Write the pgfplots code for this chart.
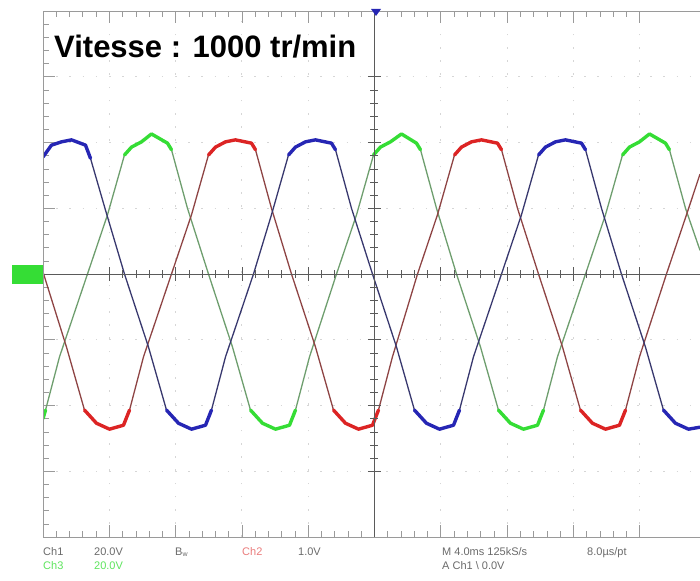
\documentclass[border=0pt]{standalone}
\usepackage{fontspec}
\setmainfont{Liberation Sans}
\usepackage{pgfplots}
\pgfplotsset{compat=1.18}
\usepackage{pgfplotstable}

\definecolor{bluep}{HTML}{2626B4}
\definecolor{blues}{HTML}{38386E}
\definecolor{greenp}{HTML}{35DD35}
\definecolor{greens}{HTML}{6E9E6E}
\definecolor{redp}{HTML}{DC2424}
\definecolor{reds}{HTML}{8E4444}
\definecolor{gridc}{HTML}{D6D6D6}
\definecolor{framec}{HTML}{9A9A9A}
\definecolor{centerc}{HTML}{5A5A5A}
\definecolor{txt}{HTML}{6A6A6A}

% time in divisions (4 ms/div), amplitude in divisions
\pgfplotstableread{
x y
-5.000 1.78
-4.872 1.96
-4.721 2.01
-4.570 2.04
-4.359 1.96
-4.284 1.76
-4.057 0.97
-3.771 0
-3.409 -1.11
-3.137 -2.07
-2.956 -2.27
-2.760 -2.36
-2.549 -2.30
-2.459 -2.07
-2.247 -1.26
-1.825 0
-1.554 0.90
-1.297 1.81
-1.192 1.93
-1.041 2.01
-0.890 2.04
-0.649 1.99
-0.588 1.89
-0.347 1.00
-0.030 0
0.332 -1.11
0.603 -2.07
0.784 -2.27
0.980 -2.36
1.192 -2.30
1.282 -2.07
1.493 -1.26
1.916 0
2.217 0.90
2.474 1.81
2.579 1.93
2.730 2.01
2.881 2.04
3.122 1.99
3.183 1.89
3.424 1.00
3.725 0
4.087 -1.11
4.359 -2.07
4.540 -2.27
4.736 -2.36
4.910 -2.33
}\bluedata

\pgfplotstableread{
x y
-5.000 0.03
-4.646 -1.11
-4.374 -2.07
-4.193 -2.27
-3.997 -2.36
-3.786 -2.30
-3.695 -2.07
-3.484 -1.26
-3.062 0
-2.760 0.90
-2.504 1.81
-2.398 1.93
-2.247 2.01
-2.097 2.04
-1.855 1.99
-1.795 1.89
-1.554 1.00
-1.252 0
-0.890 -1.11
-0.618 -2.07
-0.437 -2.27
-0.241 -2.36
-0.030 -2.30
0.060 -2.07
0.271 -1.26
0.649 0
0.950 0.90
1.207 1.81
1.312 1.93
1.463 2.01
1.614 2.04
1.855 1.99
1.916 1.89
2.157 1.00
2.474 0
2.836 -1.11
3.107 -2.07
3.288 -2.27
3.484 -2.36
3.695 -2.30
3.786 -2.07
3.997 -1.26
4.404 0
4.706 0.90
4.910 1.52
}\reddata

\pgfplotstableread{
x y
-5.000 -2.20
-4.962 -2.07
-4.751 -1.26
-4.329 0
-4.027 0.90
-3.771 1.81
-3.665 1.93
-3.514 2.01
-3.364 2.13
-3.122 1.99
-3.062 1.89
-2.821 1.00
-2.504 0
-2.142 -1.11
-1.870 -2.07
-1.689 -2.27
-1.493 -2.36
-1.282 -2.30
-1.192 -2.07
-0.980 -1.26
-0.573 0
-0.271 0.90
-0.015 1.81
0.090 1.93
0.241 2.01
0.407 2.13
0.633 1.99
0.694 1.89
0.935 1.00
1.237 0
1.599 -1.11
1.870 -2.07
2.051 -2.27
2.247 -2.36
2.459 -2.30
2.549 -2.07
2.760 -1.26
3.183 0
3.484 0.90
3.741 1.81
3.846 1.93
3.997 2.01
4.148 2.13
4.389 1.99
4.449 1.89
4.691 1.00
4.910 0.36
}\greendata

\begin{document}
\begin{tikzpicture}[x=1pt,y=1pt]
\useasboundingbox (0,0) rectangle (700,580);

% scope graticule + traces
\begin{axis}[
  at={(43pt,43pt)}, anchor=south west, scale only axis,
  width=657pt, height=526pt,
  xmin=-5, xmax=4.91, ymin=-4, ymax=4,
  axis line style={draw=none},
  xtick={-5,-4,...,4}, ytick={-4,-3,...,4},
  minor x tick num=4, minor y tick num=4,
  xticklabels={}, yticklabels={},
  ytick pos=left,
  tick align=inside, major tick length=12pt, minor tick length=6pt,
  tick style={framec, line width=0.6pt},
  grid=major,
  major grid style={gridc, line width=0.9pt, dash pattern=on 1.6pt off 11.6pt},
  unbounded coords=jump,
]
\addplot[greens, line width=1.3pt, line join=round] table {\greendata};
\addplot[greenp, line width=3.4pt, line join=round, line cap=round, restrict y to domain=1.75:3] table {\greendata};
\addplot[greenp, line width=3.4pt, line join=round, line cap=round, restrict y to domain=-3:-2.0] table {\greendata};
\addplot[reds, line width=1.3pt, line join=round] table {\reddata};
\addplot[redp, line width=3.4pt, line join=round, line cap=round, restrict y to domain=1.75:3] table {\reddata};
\addplot[redp, line width=3.4pt, line join=round, line cap=round, restrict y to domain=-3:-2.0] table {\reddata};
\addplot[blues, line width=1.3pt, line join=round] table {\bluedata};
\addplot[bluep, line width=3.4pt, line join=round, line cap=round, restrict y to domain=1.75:3] table {\bluedata};
\addplot[bluep, line width=3.4pt, line join=round, line cap=round, restrict y to domain=-3:-2.0] table {\bluedata};
\end{axis}

% centre lines with their graduations
\begin{axis}[
  at={(43pt,43pt)}, anchor=south west, scale only axis,
  width=657pt, height=526pt,
  xmin=-5, xmax=4.91, ymin=-4, ymax=4,
  axis lines=middle, axis line style={draw=none},
  xtick={-4,-3,...,4}, ytick={-3,-2,...,3},
  minor x tick num=4, minor y tick num=4,
  xticklabels={}, yticklabels={},
  tick align=center, major tick length=13pt, minor tick length=8pt,
  tick style={centerc, line width=0.6pt},
  clip=false,
]
\draw[centerc, line width=0.9pt] (axis cs:-5,0) -- (axis cs:4.91,0);
\draw[centerc, line width=0.9pt] (axis cs:0,-4) -- (axis cs:0,4);
\draw[framec, line width=0.9pt] (axis cs:4.91,4) -- (axis cs:-5,4) -- (axis cs:-5,-4) -- (axis cs:4.91,-4);
\end{axis}

% channel and trigger markers
\fill[greenp] (12,296) rectangle (43,315);
\fill[bluep] (371,571) -- (381,571) -- (376,564) -- cycle;

% title
\node[anchor=base west, inner sep=0, font=\bfseries\fontsize{31}{36}\selectfont] at (54,522) {Vitesse : 1000 tr/min};

% status lines
\begin{scope}[every node/.style={anchor=base west, inner sep=0, font=\fontsize{11}{13}\selectfont}]
\node[text=txt] at (43,25) {Ch1};
\node[text=txt] at (94,25) {20.0V};
\node[text=txt] at (175,25) {B\raisebox{-1.5pt}{\fontsize{7}{8}\selectfont w}};
\node[text=redp!60] at (242,25) {Ch2};
\node[text=txt] at (298,25) {1.0V};
\node[text=txt] at (442,25) {M 4.0ms 125kS/s};
\node[text=txt] at (587,25) {8.0µs/pt};
\node[text=greenp!80] at (43,11) {Ch3};
\node[text=greenp!80] at (94,11) {20.0V};
\node[text=txt] at (442,11) {A  Ch1 \textbackslash\ 0.0V};
\end{scope}
\end{tikzpicture}
\end{document}
